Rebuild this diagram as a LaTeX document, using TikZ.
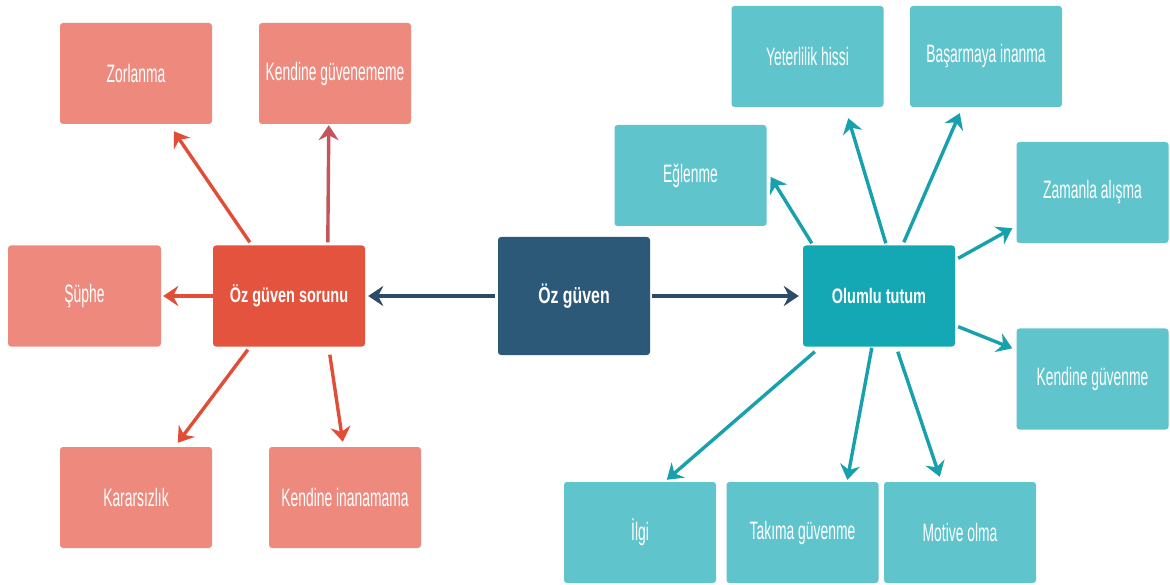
\documentclass[tikz,border=0pt]{standalone}
\usepackage{fontspec}
\usetikzlibrary{arrows.meta,calc}
\newfontfamily\leaffont[FakeStretch=0.55]{Liberation Sans}
\newfontfamily\hubfont[FakeStretch=0.69]{Liberation Sans}
\definecolor{salmon}{HTML}{EE8A7D}
\definecolor{redhub}{HTML}{E4533D}
\definecolor{redarrow}{HTML}{E14D37}
\definecolor{redmuted}{HTML}{C4555A}
\definecolor{navy}{HTML}{2D5979}
\definecolor{navyarrow}{HTML}{2C4B68}
\definecolor{tealhub}{HTML}{14A8B4}
\definecolor{teallight}{HTML}{60C4CC}
\definecolor{tealarrow}{HTML}{17A1AC}
\tikzset{
  box/.style={rounded corners=3pt, minimum width=152pt, minimum height=101pt,
    inner sep=0pt, text=white, align=center},
  leaf/.style={box, font=\leaffont\fontsize{25.2}{25.2}\selectfont},
  redleaf/.style={leaf, fill=salmon},
  tealleaf/.style={leaf, fill=teallight},
  hub/.style={box, font=\hubfont\bfseries\fontsize{21}{21}\selectfont},
  tip/.style={-{Stealth[length=15pt,width=20pt,inset=5pt]}},
  redarr/.style={tip, draw=redarrow, line width=3.4pt},
  tealarr/.style={tip, draw=tealarrow, line width=3.4pt},
  navyarr/.style={tip, draw=navyarrow, line width=4.4pt},
}
\begin{document}
\begin{tikzpicture}[x=1pt, y=-1pt]
\useasboundingbox[fill=white] (0,0) rectangle (1170,585);

% centre
\node[hub, fill=navy, minimum height=118pt,
      font=\hubfont\bfseries\fontsize{23}{23}\selectfont] (oz) at (574,296) {Öz güven};

% problem side
\node[hub, fill=redhub] (sorun) at (289,296) {Öz güven sorunu};
\node[redleaf] (zor)   at (136,73.5)  {Zorlanma};
\node[redleaf] (kgm)   at (335,73.5)  {Kendine güvenememe};
\node[redleaf, minimum width=153pt] (suphe) at (84.5,296) {Şüphe};
\node[redleaf] (karar) at (136,497.5) {Kararsızlık};
\node[redleaf] (kinan) at (345,497.5) {Kendine inanamama};

% positive side
\node[hub, fill=tealhub] (olumlu) at (879,296) {Olumlu tutum};
\node[tealleaf] (egl)  at (690.5,175.5) {Eğlenme};
\node[tealleaf] (yet)  at (807.5,56.5)  {Yeterlilik hissi};
\node[tealleaf] (bas)  at (986,56.5)    {Başarmaya inanma};
\node[tealleaf] (zam)  at (1092.5,192.5) {Zamanla alışma};
\node[tealleaf] (kgv)  at (1092.5,379)  {Kendine güvenme};
\node[tealleaf] (ilgi) at (640,532.5)   {İlgi};
\node[tealleaf] (tak)  at (802.5,532.5) {Takıma güvenme};
\node[tealleaf] (mot)  at (960,532.5)   {Motive olma};

% centre to hubs
\draw[navyarr] ($(oz.west)+(-3,0)$) -- ($(sorun.east)+(3,0)$);
\draw[navyarr] ($(oz.east)+(2,0)$) -- ($(olumlu.west)+(-4,0)$);

% problem branches
\draw[redarr] ($(sorun.north west)+(37,-3)$) -- ($(zor.south west)+(114,7)$);
\draw[redarr, draw=redmuted] ($(sorun.north west)+(115,-3)$) -- ($(kgm.south west)+(70,1)$);
\draw[redarr] (sorun.west) -- ($(suphe.east)+(2,0)$);
\draw[redarr] ($(sorun.south west)+(35,3)$) -- ($(karar.north west)+(118,-4)$);
\draw[redarr] ($(sorun.south west)+(117,8)$) -- ($(kinan.north west)+(74,-5)$);

% positive branches
\draw[tealarr] ($(olumlu.north west)+(9,-2)$) -- ($(egl.east)+(4,1.5)$);
\draw[tealarr] ($(olumlu.north west)+(83,-2)$) -- ($(yet.south west)+(117,11)$);
\draw[tealarr] ($(olumlu.north west)+(101,-3)$) -- ($(bas.south west)+(50,6)$);
\draw[tealarr] ($(olumlu.north east)+(3,13)$) -- ($(zam.south west)+(-4,-15)$);
\draw[tealarr] ($(olumlu.south east)+(3,-20)$) -- ($(kgv.north west)+(-4,20)$);
\draw[tealarr] ($(olumlu.south west)+(12,5)$) -- ($(ilgi.north west)+(103,-2)$);
\draw[tealarr] ($(olumlu.south west)+(69,1)$) -- ($(tak.north west)+(121,-2)$);
\draw[tealarr] ($(olumlu.south west)+(95,5)$) -- ($(mot.north west)+(56,-5)$);
\end{tikzpicture}
\end{document}
